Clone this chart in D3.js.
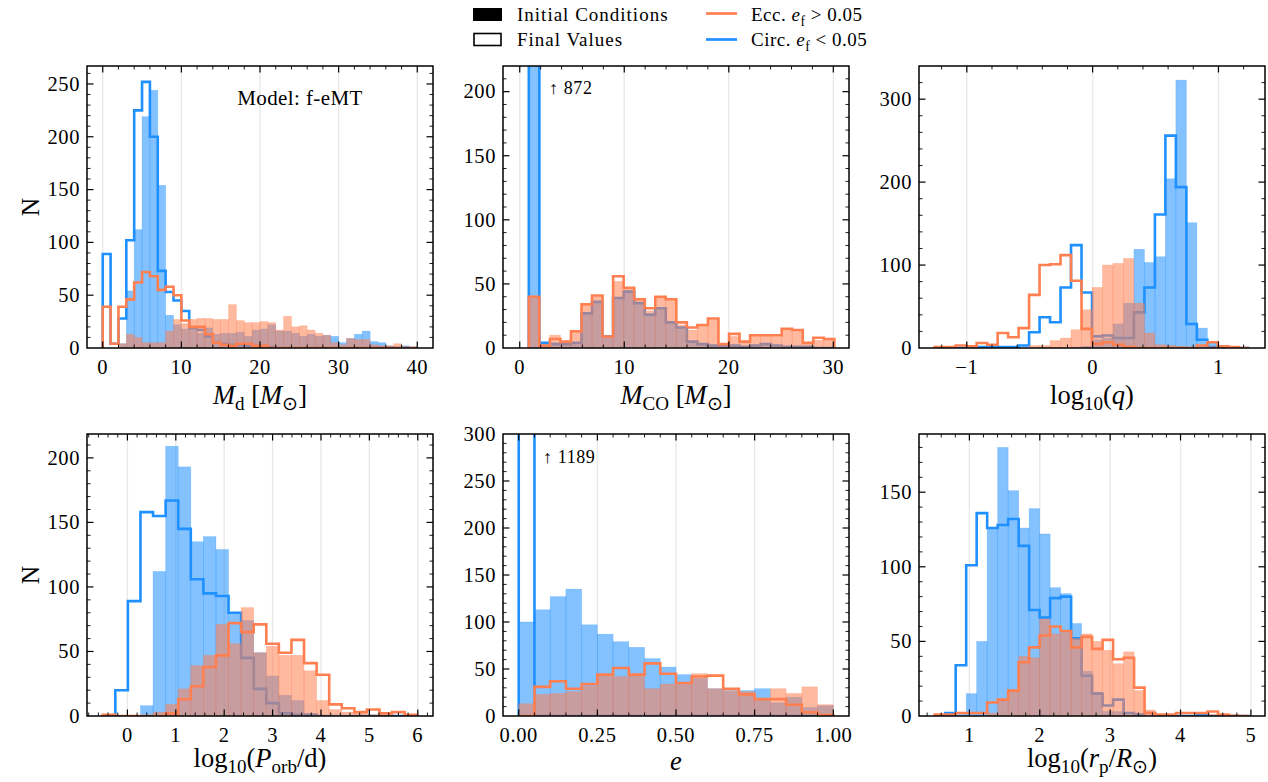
<!DOCTYPE html>
<html><head><meta charset="utf-8">
<script src="https://cdn.jsdelivr.net/npm/d3@7"></script>
<style>
body{margin:0;background:#fff}
svg{display:block}
text{font-family:"Liberation Serif","Times New Roman",serif;fill:#000}
</style>
</head><body>
<svg id="chart" width="1268" height="782"></svg>
<script>
// ---------------- DATA (histogram counts per bin) ----------------
// Panel 1: donor mass M_d, bins spanning mdRange
const mdRange = [0, 40];
const mdCircInit  = [0,0,4,54,112,219,244,154,31,22,18,18,14,19,13,14,14,15,11,17,18,22,16,16,14,11,13,11,12,11,5,9,13,16,6,5,2,1,2,0];
const mdCircFinal = [89,4,28,102,225,252,200,73,53,45,35,19,17,11,5,4,3,3,2,2,1,1,0,0,0,0,0,0,0,0,0,0,0,0,0,0,0,0,0,0];
const mdEccInit   = [0,0,4,13,10,5,5,5,16,27,23,27,28,28,27,27,41,26,24,24,25,24,17,30,20,21,17,14,12,5,3,9,8,8,3,2,2,4,1,1];
const mdEccFinal  = [39,4,39,46,62,72,68,55,58,50,26,20,20,13,5,3,2,4,4,2,2,0,0,0,0,0,0,0,0,0,0,0,0,0,0,0,0,0,0,0];

// Panel 2: CO core mass
const mcoRange = [0.87, 30.1];
const mcoCircInit  = [872,4,4,3,4,27,36,9,39,44,35,26,31,20,16,5,3,2,2,2,1,2,3,2,1,1,1,0,0];
const mcoCircFinal = [872,4,3,3,4,27,36,9,39,44,35,26,31,20,16,5,3,2,2,2,1,2,3,2,1,1,1,0,0];
const mcoEccInit   = [40,2,10,4,12,33,40,9,52,46,38,29,39,38,18,14,17,22,2,9,4,10,10,9,14,13,4,6,6];
const mcoEccFinal  = [40,2,7,5,13,34,41,9,56,47,38,31,40,38,20,16,18,23,3,11,5,10,10,10,15,14,4,8,7];

// Panel 3: log10(q)
const qRange = [-1.255, 1.245];
const qCircInit  = [0,0,0,0,0,0,0,0,0,0,0,0,0,1,2,10,12,29,54,119,103,110,204,323,151,24,6,0,0,0];
const qCircFinal = [0,0,0,0,1,1,1,1,3,19,37,31,73,124,67,14,15,12,12,43,73,161,256,194,29,10,1,0,0,0];
const qEccInit   = [0,0,0,0,0,0,0,0,0,3,3,9,12,22,46,73,100,102,108,54,18,4,3,2,1,1,2,1,0,0];
const qEccFinal  = [1,1,3,2,6,4,18,13,24,64,100,101,112,81,23,5,7,4,1,0,0,0,0,0,0,3,7,2,1,0];

// Panel 4: log10(P_orb/d)
const porbRange = [-0.51, 5.99];
const porbCircInit  = [0,0,0,8,112,209,193,135,139,129,80,74,49,31,16,12,2,0,0,0,0,0,0,0,0];
const porbCircFinal = [0,20,89,158,155,167,145,106,95,93,80,45,21,10,2,1,1,0,0,0,0,0,0,0,0];
const porbEccInit   = [0,0,0,0,3,9,21,39,47,71,56,84,49,54,47,47,35,12,5,3,2,1,1,0,0];
const porbEccFinal  = [1,0,0,0,0,2,13,23,38,47,72,65,71,56,49,59,41,32,9,6,3,5,2,3,1];

// Panel 5: eccentricity e
const eRange = [0, 1];
const eCircInit  = [100,113,127,135,97,87,79,73,61,52,44,40,29,27,27,29,14,20,9,11];
const eCircFinal = [1189,0,0,0,0,0,0,0,0,0,0,0,0,0,0,0,0,0,0,0];
const eEccInit   = [13,23,24,26,32,43,42,45,29,34,33,45,29,27,26,18,29,24,31,12];
const eEccFinal  = [0,31,37,29,34,44,51,44,56,45,35,42,43,29,23,18,18,12,4,1];

// Panel 6: log10(r_p/R_sun)
const rpRange = [0.507, 4.98];
const rpCircInit  = [0,2,1,15,50,126,180,151,126,139,122,86,82,62,30,16,3,3,1,0,0,0,0,0,0,0,0,0,0,0];
const rpCircFinal = [0,2,34,101,136,126,128,132,114,71,66,79,80,52,27,15,7,11,2,1,2,0,0,0,0,1,0,0,0,0];
const rpEccInit   = [0,0,0,0,0,2,10,16,40,39,65,55,56,52,55,50,44,35,43,17,4,1,0,0,0,0,1,1,1,0];
const rpEccFinal  = [1,1,2,2,2,9,11,17,36,46,54,60,57,46,53,45,51,38,39,19,2,1,1,2,2,2,3,1,0,0];

// Tick labels
const mdTicks = [0,10,20,30,40];
const mcoTicks = [0,10,20,30];
const qTicks = [-1,0,1];
const porbTicks = [0,1,2,3,4,5,6];
const eTicks = [0,0.25,0.5,0.75,1];
const rpTicks = [1,2,3,4,5];

// ---------------- STYLE ----------------
const BLUE = "#1E90FF", ORANGE = "#FF7F50";
const FILL_OP = 0.55;
const W = 346, H = 282;
const colX = [87, 503, 919], rowY = [66, 434];
const TICK = 20.5, LAB = 26.5;
const labOff = [56, 51];

const svg = d3.select("#chart");

const panels = [
  {c:0,r:0, range:mdRange, ci:mdCircInit, cf:mdCircFinal, ei:mdEccInit, ef:mdEccFinal,
   xd:[-2,42], yd:[0,267], xt:mdTicks, xm:2, yt:[0,50,100,150,200,250], ym:10, fmt:d=>d,
   xl:[{t:"M",i:1},{t:"d",s:1},{t:" ["},{t:"M",i:1},{t:"⊙",s:1},{t:"]"}], yl:"N",
   note:{t:"Model:  f-eMT", x:300, y:105, size:21, anchor:"middle", ls:0.4}},
  {c:1,r:0, range:mcoRange, ci:mcoCircInit, cf:mcoCircFinal, ei:mcoEccInit, ef:mcoEccFinal,
   xd:[-1.6,31.5], yd:[0,220], xt:mcoTicks, xm:2, yt:[0,50,100,150,200], ym:10, fmt:d=>d,
   xl:[{t:"M",i:1},{t:"CO",s:1},{t:" ["},{t:"M",i:1},{t:"⊙",s:1},{t:"]"}],
   note:{t:"↑ 872", x:549, y:94, size:18, anchor:"start", ls:0.6}},
  {c:2,r:0, range:qRange, ci:qCircInit, cf:qCircFinal, ei:qEccInit, ef:qEccFinal,
   xd:[-1.38,1.37], yd:[0,340], xt:qTicks, xm:0.2, yt:[0,100,200,300], ym:20, fmt:d=>d<0?"−"+(-d):d,
   xl:[{t:"log"},{t:"10",s:1},{t:"("},{t:"q",i:1},{t:")"}]},
  {c:0,r:1, range:porbRange, ci:porbCircInit, cf:porbCircFinal, ei:porbEccInit, ef:porbEccFinal,
   xd:[-0.835,6.315], yd:[0,218.5], xt:porbTicks, xm:0.2, yt:[0,50,100,150,200], ym:10, fmt:d=>d,
   xl:[{t:"log"},{t:"10",s:1},{t:"("},{t:"P",i:1},{t:"orb",s:1},{t:"/d)"}], yl:"N"},
  {c:1,r:1, range:eRange, ci:eCircInit, cf:eCircFinal, ei:eEccInit, ef:eEccFinal,
   xd:[-0.05,1.05], yd:[0,300], xt:eTicks, xm:0.05, yt:[0,50,100,150,200,250,300], ym:10, fmt:d=>d.toFixed(2),
   xl:[{t:"e",i:1}], lo:54,
   note:{t:"↑ 1189", x:543, y:463, size:18, anchor:"start", ls:0.6}},
  {c:2,r:1, range:rpRange, ci:rpCircInit, cf:rpCircFinal, ei:rpEccInit, ef:rpEccFinal,
   xd:[0.284,5.2], yd:[0,189], xt:rpTicks, xm:0.2, yt:[0,50,100,150], ym:10, fmt:d=>d,
   xl:[{t:"log"},{t:"10",s:1},{t:"("},{t:"r",i:1},{t:"p",s:1},{t:"/"},{t:"R",i:1},{t:"⊙",s:1},{t:")"}]}
];

function rich(textSel, parts, size){
  let off = 0;
  parts.forEach(p=>{
    const ts = textSel.append("tspan").text(p.t);
    if (p.i) ts.attr("font-style","italic");
    if (p.s){
      ts.attr("font-size", size*0.72);
      if (off===0){ ts.attr("dy", size*0.24); off = size*0.24; }
    } else if (off!==0){ ts.attr("dy", -off); off = 0; }
  });
}

function minorTicks(domain, step, majors){
  const out = [];
  const start = Math.ceil(domain[0]/step), end = Math.floor(domain[1]/step);
  for (let k=start;k<=end;k++){
    const v = k*step;
    if (!majors.some(m=>Math.abs(m-v)<step*1e-3)) out.push(v);
  }
  return out;
}

panels.forEach((p,idx)=>{
  const x0 = colX[p.c], y0 = rowY[p.r];
  const g = svg.append("g").attr("transform",`translate(${x0},${y0})`);
  const xs = d3.scaleLinear().domain(p.xd).range([0,W]);
  const ys = d3.scaleLinear().domain(p.yd).range([H,0]);
  const n = p.ci.length;
  const edges = d3.range(n+1).map(k=>p.range[0]+(p.range[1]-p.range[0])*k/n);

  const clipId = "clip"+idx;
  g.append("clipPath").attr("id",clipId).append("rect").attr("width",W).attr("height",H);
  // grid
  g.append("g").selectAll("line").data(p.xt).join("line")
    .attr("x1",d=>xs(d)).attr("x2",d=>xs(d)).attr("y1",0).attr("y2",H)
    .attr("stroke","#e9e9e9").attr("stroke-width",1.4);

  const plot = g.append("g").attr("clip-path",`url(#${clipId})`);
  function bars(counts, color){
    plot.append("g").selectAll("rect").data(counts.map((c,i)=>({c,i})).filter(d=>d.c>0)).join("rect")
      .attr("x",d=>xs(edges[d.i])).attr("width",d=>xs(edges[d.i+1])-xs(edges[d.i]))
      .attr("y",d=>ys(d.c)).attr("height",d=>ys(0)-ys(d.c))
      .attr("fill",color).attr("fill-opacity",FILL_OP)
      .attr("stroke",color).attr("stroke-opacity",0.35).attr("stroke-width",0.6);
  }
  function step(counts, color){
    const pts = [[edges[0],0]];
    counts.forEach((c,i)=>{ pts.push([edges[i],c]); pts.push([edges[i+1],c]); });
    pts.push([edges[n],0]);
    plot.append("path").attr("d", d3.line().x(d=>xs(d[0])).y(d=>ys(d[1]))(pts))
      .attr("fill","none").attr("stroke",color).attr("stroke-width",2.6)
      .attr("stroke-linejoin","miter");
  }
  bars(p.ci, BLUE);
  step(p.cf, BLUE);
  bars(p.ei, ORANGE);
  step(p.ef, ORANGE);

  // frame
  g.append("rect").attr("width",W).attr("height",H).attr("fill","none")
    .attr("stroke","#000").attr("stroke-width",1.5);

  // ticks
  const tg = g.append("g").attr("stroke","#000");
  const xMin = minorTicks(p.xd, p.xm, p.xt), yMin = minorTicks(p.yd, p.ym, p.yt);
  const addX = (vals,len,w)=>{
    vals.forEach(v=>{ const X = xs(v); if (X<0.5||X>W-0.5) return;
      tg.append("line").attr("x1",X).attr("x2",X).attr("y1",H).attr("y2",H-len).attr("stroke-width",w);
      tg.append("line").attr("x1",X).attr("x2",X).attr("y1",0).attr("y2",len).attr("stroke-width",w);
    });
  };
  const addY = (vals,len,w)=>{
    vals.forEach(v=>{ const Y = ys(v); if (Y<0.5||Y>H-0.5) return;
      tg.append("line").attr("y1",Y).attr("y2",Y).attr("x1",0).attr("x2",len).attr("stroke-width",w);
      tg.append("line").attr("y1",Y).attr("y2",Y).attr("x1",W).attr("x2",W-len).attr("stroke-width",w);
    });
  };
  addX(p.xt,6.5,1.2); addX(xMin,3.5,0.9);
  addY(p.yt,6.5,1.2); addY(yMin,3.5,0.9);

  // tick labels
  g.append("g").selectAll("text").data(p.xt).join("text")
    .attr("x",d=>xs(d)).attr("y",H+25.5).attr("text-anchor","middle")
    .attr("font-size",TICK).attr("letter-spacing",0.6).text(d=>p.fmt(d));
  g.append("g").selectAll("text").data(p.yt).join("text")
    .attr("x",-7).attr("y",d=>ys(d)+6.8).attr("text-anchor","end")
    .attr("font-size",TICK).attr("letter-spacing",0.6).text(d=>d);

  // x label
  const xl = g.append("text").attr("x",W/2).attr("y",H+(p.lo||labOff[p.r])).attr("text-anchor","middle").attr("font-size",LAB);
  rich(xl, p.xl, LAB);
  if (p.yl){
    g.append("text").attr("transform",`translate(${39-x0},${H/2}) rotate(-90)`)
      .attr("text-anchor","middle").attr("font-size",LAB-1).text(p.yl);
  }
  if (p.note){
    svg.append("text").attr("x",p.note.x).attr("y",p.note.y).attr("text-anchor",p.note.anchor)
      .attr("font-size",p.note.size).attr("letter-spacing",p.note.ls).text(p.note.t);
  }
});

// ---------------- LEGEND ----------------
const lg = svg.append("g");
const LF = 19;
lg.append("rect").attr("x",473).attr("y",8).attr("width",29).attr("height",13).attr("fill","#000");
lg.append("rect").attr("x",474).attr("y",33.5).attr("width",27).attr("height",12).attr("fill","none").attr("stroke","#000").attr("stroke-width",1.6);
lg.append("text").attr("x",517).attr("y",21).attr("font-size",LF).attr("letter-spacing",1.0).text("Initial Conditions");
lg.append("text").attr("x",517).attr("y",46).attr("font-size",LF).attr("letter-spacing",1.0).text("Final Values");
lg.append("line").attr("x1",706).attr("x2",737).attr("y1",13.5).attr("y2",13.5).attr("stroke",ORANGE).attr("stroke-width",2.7);
lg.append("line").attr("x1",706).attr("x2",737).attr("y1",39.5).attr("y2",39.5).attr("stroke",BLUE).attr("stroke-width",2.7);
const t1 = lg.append("text").attr("x",751).attr("y",21).attr("font-size",LF).attr("letter-spacing",0.5);
rich(t1,[{t:"Ecc. "},{t:"e",i:1},{t:"f",s:1},{t:" > 0.05"}],LF);
const t2 = lg.append("text").attr("x",751).attr("y",46).attr("font-size",LF).attr("letter-spacing",0.5);
rich(t2,[{t:"Circ. "},{t:"e",i:1},{t:"f",s:1},{t:" < 0.05"}],LF);
</script>
</body></html>
